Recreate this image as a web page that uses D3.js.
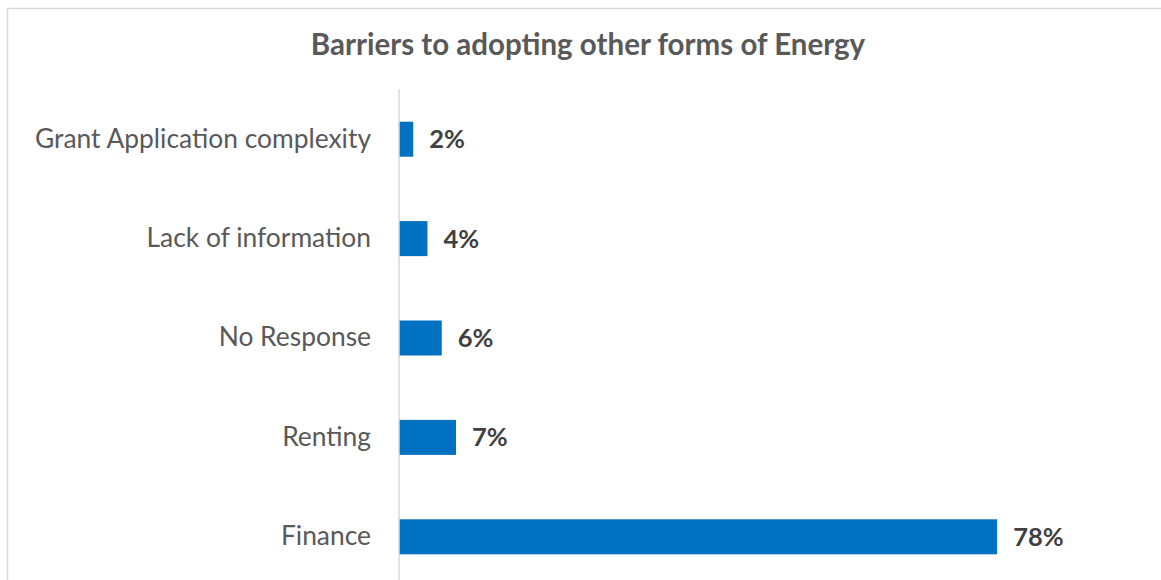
<!DOCTYPE html>
<html><head><meta charset="utf-8">
<script src="https://cdn.jsdelivr.net/npm/d3@7"></script>
<style>
html,body{margin:0;padding:0;background:#fff;}
svg{display:block;}
text{font-family:Lato,"Open Sans",sans-serif;}
</style></head>
<body>
<script>
const categories = ["Grant Application complexity","Lack of information","No Response","Renting","Finance"];
const values = [1.85, 3.70, 5.56, 7.41, 77.78];
const valueLabels = ["2%","4%","6%","7%","78%"];
const title = "Barriers to adopting other forms of Energy";

const W = 1161, H = 580;
const svg = d3.select("body").append("svg").attr("width", W).attr("height", H);

svg.append("rect").attr("x", 7.5).attr("y", 8.5).attr("width", W + 10).attr("height", H + 10)
  .attr("fill", "#fff").attr("stroke", "#d9d9d9").attr("stroke-width", 1.5);

const x = d3.scaleLinear().domain([0, 100]).range([399, 399 + 769]);
const y = d3.scaleBand().domain(categories).range([89.5, 586.5]).paddingInner(0.648).paddingOuter(0.324);

svg.append("text").attr("x", 588).attr("y", 55).attr("text-anchor", "middle")
  .attr("font-size", 29.5).attr("font-weight", "bold").attr("fill", "#595959").text(title);

svg.selectAll("rect.bar").data(categories).enter().append("rect").attr("class","bar")
  .attr("x", x(0)).attr("y", d => y(d)).attr("width", (d,i) => x(values[i]) - x(0))
  .attr("height", y.bandwidth()).attr("fill", "#0070c0");

const yAxis = svg.append("g").attr("transform", `translate(${x(0)},0)`).call(d3.axisLeft(y).tickSize(0).tickPadding(28));
yAxis.select(".domain").attr("stroke", "#d9d9d9").attr("stroke-width", 1.5).attr("d", "M0,89V600");
yAxis.selectAll("text").attr("font-size", 26.4).attr("fill", "#595959").attr("font-family", "Lato, 'Open Sans', sans-serif");

svg.selectAll("text.val").data(categories).enter().append("text").attr("class","val")
  .attr("x", (d,i) => x(values[i]) + 16).attr("y", d => y(d) + y.bandwidth()/2).attr("dy", "0.35em")
  .attr("font-size", 25.5).attr("font-weight", "bold").attr("fill", "#404040").text((d,i) => valueLabels[i]);
</script>
</body></html>
